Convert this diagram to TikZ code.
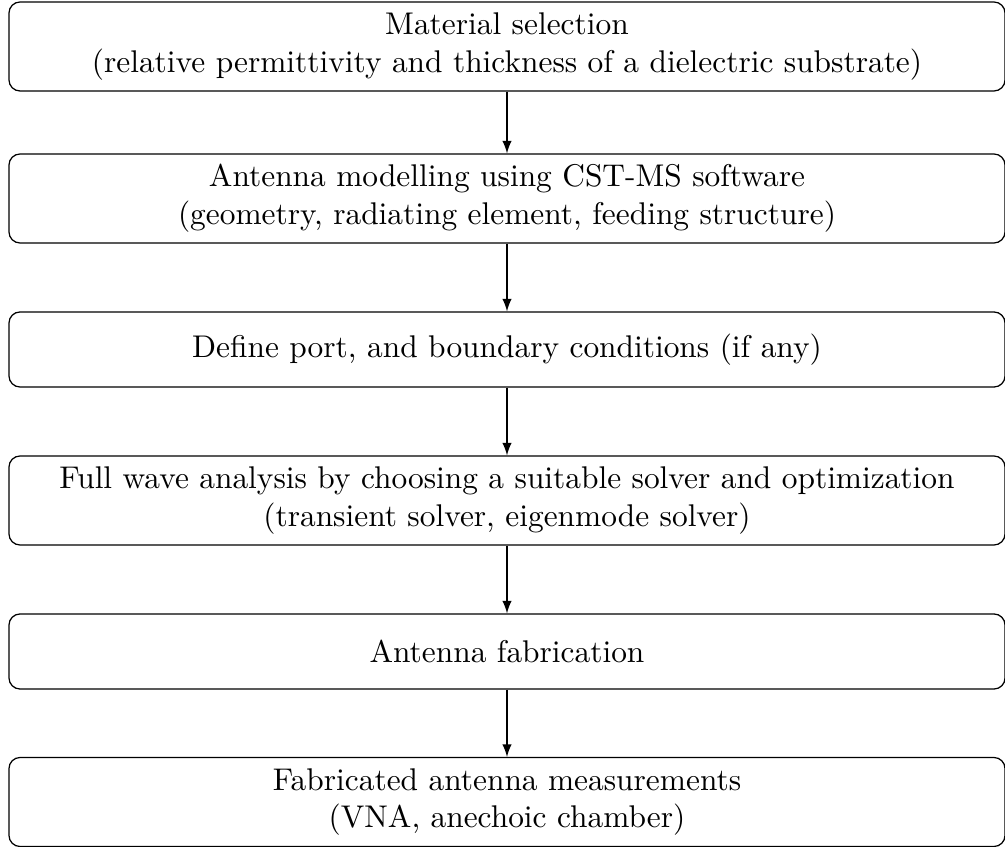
\documentclass[tikz,border=0pt]{standalone}
\begin{document}
\begin{tikzpicture}[x=0.31857pt,y=-0.31857pt,
  stepbox/.style={draw,rounded corners=3.5pt,line width=0.4pt,align=center,
    minimum width=317.3pt,inner sep=1pt},
  tall/.style={minimum height=28.35pt},
  short/.style={minimum height=23.9pt},
  flow/.style={-latex,line width=0.4pt}]
\useasboundingbox (0,0) rectangle (1005,847);
\node[stepbox,tall] (b1) at (507,46.5) {Material selection\\(relative permittivity and thickness of a dielectric substrate)};
\node[stepbox,tall] (b2) at (507,198.5) {Antenna modelling using CST-MS software\\(geometry, radiating element, feeding structure)};
\node[stepbox,short] (b3) at (507,349.5) {Define port, and boundary conditions (if any)};
\node[stepbox,tall] (b4) at (507,500.5) {Full wave analysis by choosing a suitable solver and optimization\\(transient solver, eigenmode solver)};
\node[stepbox,short] (b5) at (507,651.5) {Antenna fabrication};
\node[stepbox,tall] (b6) at (507,802) {Fabricated antenna measurements\\(VNA, anechoic chamber)};
\draw[flow] (b1) -- (b2);
\draw[flow] (b2) -- (b3);
\draw[flow] (b3) -- (b4);
\draw[flow] (b4) -- (b5);
\draw[flow] (b5) -- (b6);
\end{tikzpicture}
\end{document}
